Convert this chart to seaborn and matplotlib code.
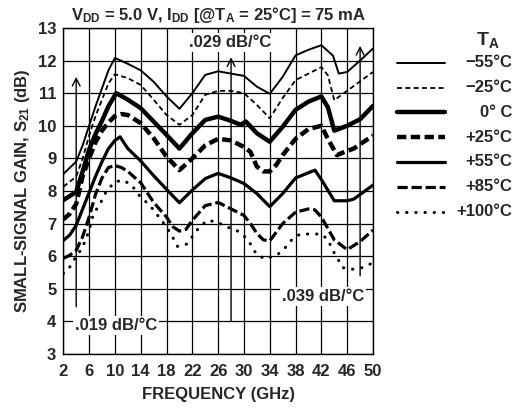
import matplotlib
matplotlib.use("Agg")
import matplotlib.pyplot as plt
from matplotlib.lines import Line2D
import seaborn as sns
import numpy as np

# Small-signal gain vs frequency, one curve per ambient temperature
m55_freq = [2, 4, 5, 6, 7, 8, 9, 10, 12, 14, 16, 18, 20, 22, 24, 26, 28, 30, 32, 34, 36, 38, 40, 42, 43.8, 44.7, 46, 48, 50]
m55_gain = [8.52, 8.9, 9.4, 10.0, 10.6, 11.15, 11.7, 12.08, 11.9, 11.7, 11.35, 10.9, 10.52, 11.0, 11.56, 11.67, 11.6, 11.53, 11.2, 10.98, 11.5, 12.16, 12.33, 12.47, 12.15, 11.6, 11.65, 12.0, 12.37]

m25_freq = [2, 4, 5, 6, 7, 8, 9, 10, 12, 14, 16, 18, 20, 22, 24, 26, 28, 30, 32, 34, 36, 38, 40, 42, 43, 44, 45, 50]
m25_gain = [8.13, 8.44, 9.0, 9.7, 10.3, 10.8, 11.3, 11.58, 11.46, 11.25, 10.8, 10.33, 10.03, 10.33, 10.95, 11.07, 11.07, 11.0, 10.64, 10.23, 10.85, 11.4, 11.6, 11.8, 11.55, 10.78, 10.93, 11.65]

z0_freq = [2, 4, 5, 6, 7, 8, 9, 10.2, 12, 14, 16, 18, 20, 22, 24, 26, 28, 29.5, 30.3, 32, 34, 36, 38, 40, 42, 43, 44, 46, 48, 50]
z0_gain = [7.72, 7.97, 8.6, 9.27, 9.75, 10.15, 10.6, 11.0, 10.8, 10.54, 10.13, 9.72, 9.3, 9.77, 10.18, 10.28, 10.15, 10.03, 10.13, 9.77, 9.51, 9.97, 10.49, 10.74, 10.9, 10.57, 9.85, 10.0, 10.2, 10.61]

p25_freq = [2, 3, 4, 5, 6, 7, 8, 9, 10, 11, 12, 14, 16, 18, 20, 22, 24, 26, 28, 30, 31, 32, 33, 34, 35, 36, 38, 40, 42, 43, 44.4, 45.6, 47, 50]
p25_gain = [7.13, 7.3, 7.6, 8.45, 9.0, 9.5, 9.85, 10.1, 10.3, 10.36, 10.33, 10.08, 9.62, 9.05, 8.64, 9.0, 9.4, 9.6, 9.55, 9.35, 9.2, 8.75, 8.6, 8.6, 8.8, 9.1, 9.6, 9.9, 10.0, 9.6, 9.1, 9.2, 9.3, 9.7]

p55_freq = [2, 3, 4, 5, 6, 7, 8, 9, 10, 10.8, 12, 14, 16, 18, 20, 22, 24, 26, 28, 30, 32, 34, 36, 38, 40, 41, 42, 44, 46, 47, 50]
p55_gain = [6.48, 6.65, 6.95, 7.45, 7.95, 8.45, 8.9, 9.3, 9.55, 9.66, 9.3, 8.92, 8.47, 8.05, 7.64, 8.03, 8.38, 8.54, 8.4, 8.23, 7.92, 7.52, 7.92, 8.4, 8.56, 8.64, 8.35, 7.7, 7.7, 7.75, 8.18]

p85_freq = [2, 3, 4, 5, 6, 7, 8, 9, 10, 11, 12, 14, 16, 18, 19, 20, 21, 22, 24, 26, 28, 30, 31, 32, 33, 34, 36, 38, 40, 41, 42, 44, 46, 48, 50]
p85_gain = [5.93, 6.03, 6.18, 6.6, 7.2, 7.9, 8.4, 8.72, 8.78, 8.72, 8.6, 8.25, 7.65, 7.2, 6.9, 6.77, 6.82, 7.1, 7.55, 7.65, 7.45, 7.25, 7.0, 6.7, 6.5, 6.47, 7.0, 7.35, 7.45, 7.42, 7.2, 6.5, 6.2, 6.45, 6.8]

p100_freq = [2, 3, 4, 4.9, 5.6, 6.1, 6.65, 7.95, 8.7, 10, 11.3, 12.6, 13.6, 14.9, 16.1, 17, 18, 18.9, 19.7, 21.1, 22, 23, 24.3, 25.8, 27.3, 28.8, 30.1, 31.1, 31.9, 33.2, 35.1, 36.3, 37.4, 38.7, 40.3, 41.9, 43, 43.7, 44.5, 45.3, 46.8, 48.4, 50]
p100_gain = [5.47, 5.67, 6.0, 6.24, 6.57, 6.87, 7.28, 7.7, 8.0, 8.28, 8.33, 8.18, 7.9, 7.65, 7.4, 7.15, 6.9, 6.6, 6.3, 6.37, 6.6, 6.87, 7.1, 7.05, 6.9, 6.8, 6.6, 6.35, 6.07, 5.92, 6.03, 6.24, 6.5, 6.68, 6.68, 6.68, 6.52, 6.2, 5.93, 5.65, 5.6, 5.65, 5.8]

temp_labels = ["\u221255\u00b0C", "\u221225\u00b0C", "0\u00b0 C", "+25\u00b0C", "+55\u00b0C", "+85\u00b0C", "+100\u00b0C"]
x_ticks = list(range(2, 51, 4))
y_ticks = list(range(3, 14))

series = [(m55_freq, m55_gain), (m25_freq, m25_gain), (z0_freq, z0_gain), (p25_freq, p25_gain),
          (p55_freq, p55_gain), (p85_freq, p85_gain), (p100_freq, p100_gain)]
# line width (pt), dash pattern, cap style
styles = [
    (1.4, "-", "butt"),
    (1.3, (0, (2.8, 1.8)), "butt"),
    (3.2, "-", "butt"),
    (3.2, (0, (2.1, 1.0)), "butt"),
    (2.3, "-", "butt"),
    (2.3, (0, (3.2, 1.2)), "butt"),
    (2.2, (0, (0.1, 2.9)), "round"),
]

FS = 12

sns.set_style("white")
plt.rcParams["font.family"] = ["Liberation Sans", "DejaVu Sans"]
plt.rcParams["font.weight"] = "bold"
plt.rcParams["mathtext.fontset"] = "custom"
plt.rcParams["mathtext.bf"] = "Liberation Sans:bold"
plt.rcParams["mathtext.rm"] = "Liberation Sans:bold"
plt.rcParams["mathtext.default"] = "bf"

fig = plt.figure(figsize=(5.15, 4.17), dpi=100)
ax = fig.add_axes([0.1229, 0.151, 0.6014, 0.782])

for (f, g), (lw, ls, cap) in zip(series, styles):
    sns.lineplot(x=f, y=g, ax=ax, color="black", linewidth=lw, linestyle=ls,
                 dash_capstyle=cap, estimator=None, sort=False, zorder=3)

ax.set_xlim(2, 50)
ax.set_ylim(3, 13)
ax.set_xticks(x_ticks)
ax.set_yticks(y_ticks)
ax.grid(True, color="black", linewidth=0.9)
ax.set_axisbelow(True)
ax.tick_params(axis="x", length=0, labelsize=FS, pad=7)
ax.tick_params(axis="y", length=0, labelsize=FS, pad=5)
for lab in ax.get_xticklabels() + ax.get_yticklabels():
    lab.set_fontweight("bold")
for sp in ax.spines.values():
    sp.set_color("black")
    sp.set_linewidth(1.0)

ax.set_xlabel("FREQUENCY (GHz)", fontsize=FS, fontweight="bold", labelpad=6)
ax.set_ylabel("SMALL-SIGNAL GAIN, S$_{21}$ (dB)", fontsize=FS, fontweight="bold", labelpad=4)
ax.set_title("V$_{DD}$ = 5.0 V, I$_{DD}$ [@T$_A$ = 25\u00b0C] = 75 mA", fontsize=FS, fontweight="bold", pad=6)

# temperature coefficient arrows
arrow_kw = dict(arrowstyle="->,head_length=0.55,head_width=0.28", color="black", lw=1.0, shrinkA=0, shrinkB=0)
ax.annotate("", xy=(4, 11.5), xytext=(4, 4.45), arrowprops=arrow_kw, zorder=2)
ax.annotate("", xy=(28, 12.1), xytext=(28, 4.0), arrowprops=arrow_kw, zorder=2)
ax.annotate("", xy=(48, 12.45), xytext=(48, 5.4), arrowprops=arrow_kw, zorder=2)

box = dict(facecolor="white", edgecolor="none", pad=1.5)
ax.text(27.8, 12.54, ".029 dB/\u00b0C", ha="center", va="center", fontsize=FS, fontweight="bold", bbox=box, zorder=4)
ax.text(3.8, 3.89, ".019 dB/\u00b0C", ha="left", va="center", fontsize=FS, fontweight="bold", bbox=box, zorder=4)
ax.text(35.9, 4.77, ".039 dB/\u00b0C", ha="left", va="center", fontsize=FS, fontweight="bold", bbox=box, zorder=4)

# legend drawn by hand so the labels sit right-aligned like the datasheet
fig.text(0.948, 0.904, "T$_A$", ha="center", va="center", fontsize=14, fontweight="bold")
for i, (lab, (lw, ls, cap)) in enumerate(zip(temp_labels, styles)):
    y = 0.8496 - i * 0.0595
    fig.add_artist(Line2D([0.771, 0.864], [y, y], transform=fig.transFigure, color="black",
                          linewidth=lw, linestyle=ls, dash_capstyle=cap))
    fig.text(0.994, y, lab, ha="right", va="center", fontsize=FS, fontweight="bold")

fig.savefig("out.png", dpi=100)
